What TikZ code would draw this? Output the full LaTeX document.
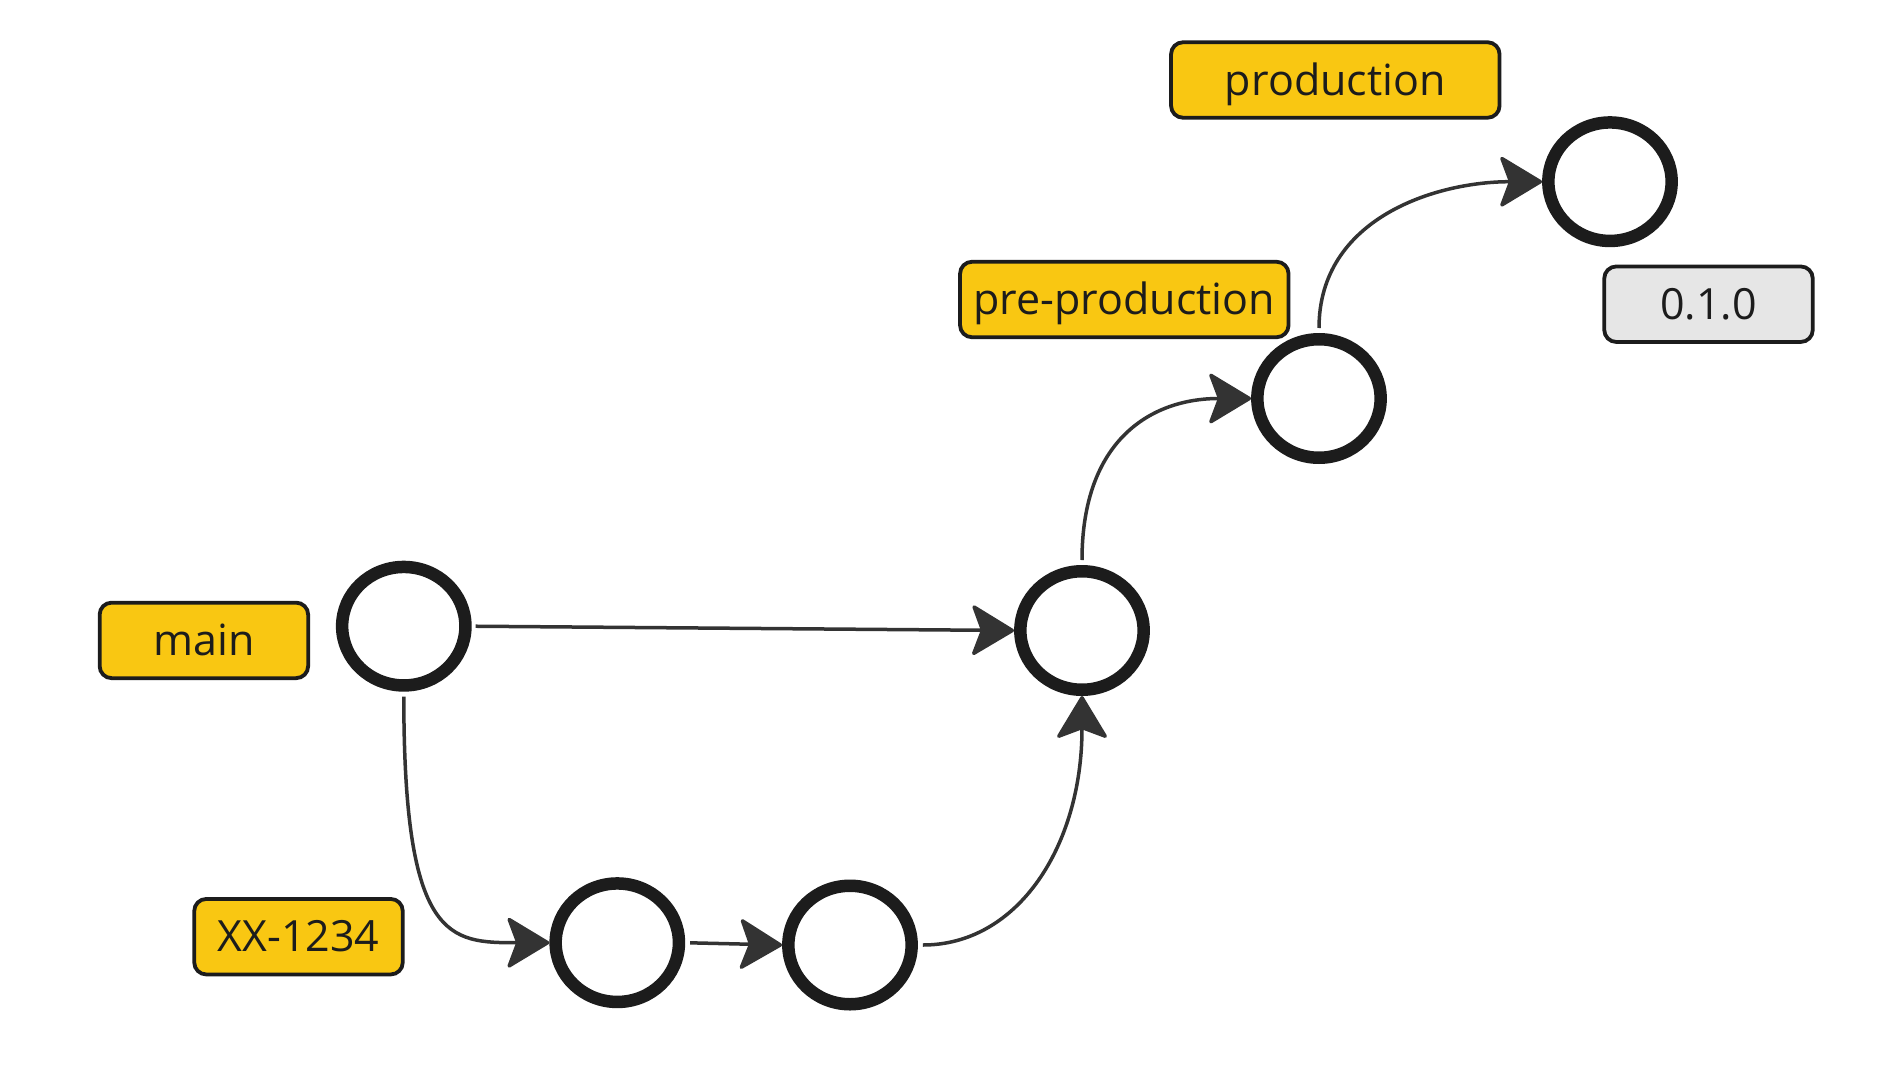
\documentclass[tikz,border=0pt]{standalone}
\usepackage{fontspec}
\setmainfont{Open Sans}
\usetikzlibrary{arrows.meta,shapes.geometric}
\definecolor{tagyellow}{HTML}{F9C712}
\definecolor{taggray}{HTML}{E6E6E6}
\definecolor{ink}{HTML}{1C1C1C}
\definecolor{edgecol}{HTML}{333333}
\begin{document}
\begin{tikzpicture}[x=1pt,y=-1pt,
  commit/.style={draw=ink, fill=white, ellipse, line width=12.5pt,
    minimum width=123.3pt, minimum height=118.5pt, inner sep=0pt},
  tag/.style={draw=ink, line width=3.8pt, rounded corners=12pt, fill=tagyellow,
    minimum width=208.5pt, minimum height=75.5pt, inner sep=0pt, text=ink,
    font=\fontsize{43}{50}\selectfont, text height=30.4pt, text depth=0pt},
  widetag/.style={minimum width=328.5pt},
  versiontag/.style={fill=taggray},
  link/.style={draw=edgecol, line width=3.5pt,
    -{Stealth[length=45pt,width=54pt,inset=10pt,round]}}
]
\useasboundingbox (0,0) rectangle (1900,1078);
\fill[white] (0,0) rectangle (1900,1078);

% commits
\node[commit] (c1) at (403.8,626.2) {};
\node[commit] (c2) at (1082,630.5) {};
\node[commit] (c3) at (1319,398.5) {};
\node[commit] (c4) at (1610,181.7) {};
\node[commit] (c5) at (617.3,942.7) {};
\node[commit] (c6) at (850,945) {};

% tags
\node[tag] (main) at (203.9,640.4) {main};
\node[tag] (feat) at (298.5,936.7) {XX-1234};
\node[tag,widetag] (prod) at (1335.3,80) {production};
\node[tag,widetag] (preprod) at (1124.3,299.5) {pre-production};
\node[tag,versiontag] (ver) at (1708.5,304.2) {0.1.0};

% connectors
\draw[link, shorten <=4pt] (c1.east) -- (c2.west);
\draw[link, shorten <=5pt] (c1.south) .. controls +(0,250) and +(-100,0) .. (c5.west);
\draw[link, shorten <=5pt] (c5.east) -- (c6.west);
\draw[link, shorten <=5pt] (c6.east) .. controls +(100,0) and +(0,150) .. (c2.south);
\draw[link, shorten <=5pt] (c2.north) .. controls +(0,-125) and +(-100,0) .. (c3.west);
\draw[link, shorten <=5pt] (c3.north) .. controls +(0,-115) and +(-106,0) .. (c4.west);
\end{tikzpicture}
\end{document}
